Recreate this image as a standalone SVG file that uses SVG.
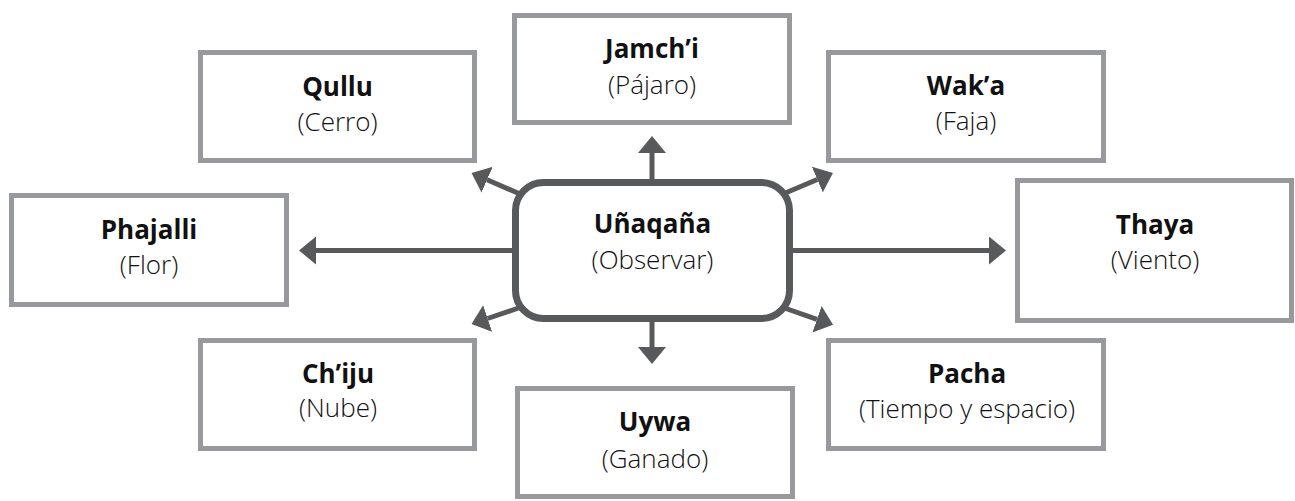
<svg xmlns="http://www.w3.org/2000/svg" width="1295" height="501" viewBox="0 0 1295 501">
  <style>
    .box { fill: #ffffff; stroke: #98999c; stroke-width: 5; }
    .center { fill: #ffffff; stroke: #58595b; stroke-width: 7; }
    .conn { stroke: #58595b; stroke-width: 5; fill: none; marker-end: url(#arrow); }
    .title { font-family: "Open Sans", "Liberation Sans", sans-serif; font-weight: 700; font-size: 26px; fill: #111111; text-anchor: middle; }
    .sub { font-family: "Open Sans", "Liberation Sans", sans-serif; font-weight: 300; font-size: 26px; fill: #111111; text-anchor: middle; }
  </style>
  <defs>
    <marker id="arrow" viewBox="0 0 17 28" refX="0" refY="14" markerWidth="17" markerHeight="28" markerUnits="userSpaceOnUse" orient="auto">
      <path d="M0,0 L17,14 L0,28 z" fill="#58595b"/>
    </marker>
  </defs>
  <rect width="1295" height="501" fill="#ffffff"/>

  <g id="connectors">
    <line class="conn" x1="652" y1="180" x2="652" y2="153"/>
    <line class="conn" x1="652" y1="321" x2="652" y2="347"/>
    <line class="conn" x1="516" y1="250.5" x2="316" y2="250.5"/>
    <line class="conn" x1="789" y1="250.5" x2="989" y2="250.5"/>
    <line class="conn" x1="520" y1="194" x2="487.1" y2="179.7"/>
    <line class="conn" x1="783" y1="194" x2="817.3" y2="179.5"/>
    <line class="conn" x1="520" y1="307.5" x2="487.6" y2="318.5"/>
    <line class="conn" x1="783" y1="307.5" x2="817" y2="319.3"/>
  </g>

  <g id="node-center">
    <rect class="center" x="515.5" y="182.5" width="274" height="136" rx="28" ry="28"/>
    <text class="title" x="652.5" y="233">Uñaqaña</text>
    <text class="sub" x="652.5" y="269">(Observar)</text>
  </g>

  <g id="node-jamchi">
    <rect class="box" x="514.5" y="15.5" width="275" height="107"/>
    <text class="title" x="652" y="58">Jamch’i</text>
    <text class="sub" x="652" y="94">(Pájaro)</text>
  </g>

  <g id="node-qullu">
    <rect class="box" x="200.5" y="52.5" width="274" height="108"/>
    <text class="title" x="337.5" y="96">Qullu</text>
    <text class="sub" x="337.5" y="131">(Cerro)</text>
  </g>

  <g id="node-waka">
    <rect class="box" x="828.5" y="52.5" width="275" height="108"/>
    <text class="title" x="966" y="95">Wak’a</text>
    <text class="sub" x="966" y="130">(Faja)</text>
  </g>

  <g id="node-phajalli">
    <rect class="box" x="11.5" y="195.5" width="275" height="109"/>
    <text class="title" x="149" y="239">Phajalli</text>
    <text class="sub" x="149" y="274">(Flor)</text>
  </g>

  <g id="node-thaya">
    <rect class="box" x="1017.5" y="180.5" width="274" height="140"/>
    <text class="title" x="1155" y="234">Thaya</text>
    <text class="sub" x="1155" y="269">(Viento)</text>
  </g>

  <g id="node-chiju">
    <rect class="box" x="200.5" y="340.5" width="274" height="108"/>
    <text class="title" x="338" y="383">Ch’iju</text>
    <text class="sub" x="338" y="417">(Nube)</text>
  </g>

  <g id="node-pacha">
    <rect class="box" x="828.5" y="340.5" width="275" height="108"/>
    <text class="title" x="967" y="383">Pacha</text>
    <text class="sub" x="967" y="418">(Tiempo y espacio)</text>
  </g>

  <g id="node-uywa">
    <rect class="box" x="517.5" y="388.5" width="275" height="108"/>
    <text class="title" x="655" y="431">Uywa</text>
    <text class="sub" x="655" y="468">(Ganado)</text>
  </g>
</svg>
